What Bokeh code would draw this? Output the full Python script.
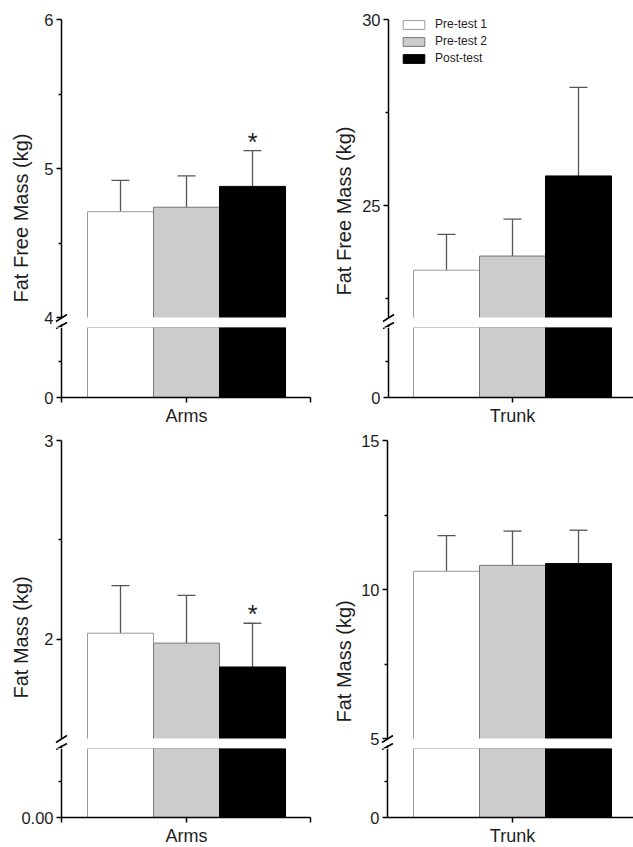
import math
from bokeh.plotting import figure
from bokeh.models import (Range1d, FixedTicker, Label, Whisker, TeeHead,
                          ColumnDataSource, Legend, LegendItem)
from bokeh.layouts import row, column
from bokeh.embed import file_html
from bokeh.resources import INLINE
from bokeh.core.properties import value

# ---------------- data ----------------
series = ["Pre-test 1", "Pre-test 2", "Post-test"]
fills = ["#ffffff", "#cccccc", "#000000"]
edges = ["#9a9a9a", "#777777", "#000000"]

categories = ["Arms", "Trunk"]

ffm_arms = [4.71, 4.74, 4.88]
ffm_arms_sd = [0.21, 0.21, 0.24]
ffm_arms_sig = [False, False, True]

ffm_trunk = [23.27, 23.65, 25.80]
ffm_trunk_sd = [0.96, 0.99, 2.38]
ffm_trunk_sig = [False, False, False]

fm_arms = [2.03, 1.98, 1.86]
fm_arms_sd = [0.24, 0.24, 0.22]
fm_arms_sig = [False, False, True]

fm_trunk = [10.61, 10.81, 10.87]
fm_trunk_sd = [1.20, 1.15, 1.12]
fm_trunk_sig = [False, False, False]

ylabels = ["Fat Free Mass (kg)", "Fat Free Mass (kg)", "Fat Mass (kg)", "Fat Mass (kg)"]

# broken axes: lower segment 0..brk, upper segment brk..top
ffm_arms_axis = dict(brk=4, top=6, ticks=[4, 5, 6], minor=[4.5, 5.5], low_ticks=[0], low_minor=[2], low_labels={0: "0"})
ffm_trunk_axis = dict(brk=22, top=30, ticks=[25, 30], minor=[22.5, 27.5], low_ticks=[0], low_minor=[11], low_labels={0: "0"})
fm_arms_axis = dict(brk=1.5, top=3, ticks=[2, 3], minor=[2.5], low_ticks=[0], low_minor=[0.75], low_labels={0: "0.00"})
fm_trunk_axis = dict(brk=5, top=15, ticks=[5, 10, 15], minor=[7.5, 12.5], low_ticks=[0], low_minor=[2.5], low_labels={0: "0"})

FONT = "Liberation Sans"
TXT = "#1e1e1e"
BAR_PX = 66          # pixel width of one bar
UP_SEG = 298         # pixel height of the upper axis segment
SPLIT = 3            # canvas split, pixels below the start of the lower segment


def style_axis(ax, size="16.5px"):
    ax.axis_line_color = "black"
    ax.axis_line_width = 1.5
    ax.major_tick_line_color = "black"
    ax.major_tick_line_width = 1.5
    ax.minor_tick_line_color = "black"
    ax.minor_tick_line_width = 1.5
    ax.major_tick_in = 0
    ax.minor_tick_in = 0
    ax.major_label_text_font = FONT
    ax.major_label_text_font_size = size
    ax.major_label_text_color = TXT


def make_panel(cat, vals, sds, sig, ylabel, ax, L, legend=False):
    brk, top = ax["brk"], ax["top"]
    xpos = [k - 1 for k in range(len(vals))]
    src = ColumnDataSource(dict(x=xpos, top=vals, upper=[v + s for v, s in zip(vals, sds)],
                                fill=fills, edge=edges))
    cx = L["cx"]
    axx = (L["axx"] - cx) / BAR_PX
    xend = (L["xend"] - cx) / BAR_PX
    xr = Range1d((L["cl"] - cx) / BAR_PX, (L["cr"] - cx) / BAR_PX)
    sdx = 5.5 / BAR_PX

    common = dict(frame_width=L["cr"] - L["cl"], x_range=xr, toolbar_location=None,
                  output_backend="svg", min_border_left=0, min_border_right=0,
                  min_border_top=0, min_border_bottom=0,
                  background_fill_color="white", border_fill_color="white",
                  outline_line_color=None)

    ct, bpx = L["ct"], L["brk_px"]
    lbpx, zpx, cbot = L["lbrk_px"], L["zero_px"], L["cbot"]
    split = lbpx + SPLIT
    pxy = UP_SEG / (top - brk)
    pyl = (zpx - lbpx) / brk

    def y_up(px):
        return brk - (px - bpx) / pxy

    def y_lo(px):
        return brk - (px - lbpx) / pyl

    # ---- upper segment (canvas = frame) ----
    y0 = y_up(split)
    y1 = y_up(ct)
    up = figure(frame_height=split - ct, y_range=Range1d(y0, y1), x_axis_location=None, **common)
    up.grid.visible = False
    bars = up.vbar(x="x", top="top", bottom=0, width=1, source=src, fill_color="fill",
                   line_color="edge", line_width=1)
    # white gap of the axis break
    up.quad(left=[xpos[0] - 0.55], right=[xpos[-1] + 0.55], bottom=[y0], top=[brk],
            fill_color="white", line_color=None)
    # start of the lower axis segment falls in this canvas
    up.segment(x0=[axx], y0=[y_up(lbpx)], x1=[axx], y1=[y0], line_color="black", line_width=1.5)
    wc = "#555555"
    up.add_layout(Whisker(source=src, base="x", lower="top", upper="upper",
                          upper_head=TeeHead(size=18, line_color=wc, line_width=1.3),
                          lower_head=None, line_color=wc, line_width=1.3))
    sx = [x for x, s in zip(xpos, sig) if s]
    sy = [u for u, s in zip(src.data["upper"], sig) if s]
    if sx:
        up.text(x=sx, y=sy, text=["*"] * len(sx), text_align="center", text_baseline="middle",
                y_offset=-9, text_font=value(FONT), text_font_size="25px", text_color=TXT)
    ya = up.yaxis[0]
    style_axis(ya)
    ya.fixed_location = axx
    ya.bounds = (brk, top)
    ya.ticker = FixedTicker(ticks=ax["ticks"], minor_ticks=ax["minor"])
    ya.major_tick_out = 5
    ya.minor_tick_out = 3
    ya.major_label_standoff = 3
    # axis break marks: one at the end of each axis segment
    up.segment(x0=[axx - sdx, axx - sdx], y0=[y_up(bpx + 4), y_up(lbpx + 4)],
               x1=[axx + sdx, axx + sdx], y1=[y_up(bpx - 3), y_up(lbpx - 2)],
               line_color="black", line_width=1.6)
    up.add_layout(Label(x=axx, y=brk, x_offset=L["tdx"], y_offset=L["tdy"], text=ylabel,
                        angle=math.pi / 2, text_align="left", text_baseline="alphabetic",
                        text_font=FONT, text_font_size="20px", text_color=TXT))

    if legend:
        items = [LegendItem(label=name, renderers=[bars], index=i) for i, name in enumerate(series)]
        lg = Legend(items=items, location=(L["lgx"] - L["cl"], (split - ct) - (L["lgy"] - ct) - 48),
                    margin=0, padding=0, spacing=3,
                    glyph_width=27, glyph_height=11, label_height=11, label_standoff=8,
                    label_text_font=FONT, label_text_font_size="12px", label_text_color=TXT,
                    border_line_color=None, background_fill_alpha=0)
        up.add_layout(lg)

    # ---- lower segment (canvas = frame) ----
    ly0 = y_lo(cbot)
    lo = figure(frame_height=cbot - split, y_range=Range1d(ly0, y_lo(split)), **common)
    lo.grid.visible = False
    lo.vbar(x="x", top="top", bottom=0, width=1, source=src, fill_color="fill",
            line_color="edge", line_width=1)
    la = lo.yaxis[0]
    style_axis(la)
    la.fixed_location = axx
    la.bounds = (0, brk)
    la.ticker = FixedTicker(ticks=ax["low_ticks"], minor_ticks=ax["low_minor"])
    la.major_label_overrides = ax["low_labels"]
    la.major_tick_out = 5
    la.minor_tick_out = 3
    la.major_label_standoff = 3
    lo.segment(x0=[axx - sdx], y0=[y_lo(lbpx + 4)], x1=[axx + sdx], y1=[y_lo(lbpx - 2)],
               line_color="black", line_width=1.6)
    xa = lo.xaxis[0]
    style_axis(xa, size="18px")
    xa.fixed_location = 0
    xa.bounds = (axx, xend)
    xa.ticker = FixedTicker(ticks=[0], minor_ticks=[axx, xend] if L["endticks"] else [])
    xa.major_label_overrides = {0: cat}
    xa.major_tick_out = 5
    xa.minor_tick_out = 5
    xa.major_label_standoff = 3
    return column(up, lo, spacing=0)


# layout in window pixels
left_top = dict(cl=0, cr=318, axx=61, xend=310, cx=186, ct=0, brk_px=317,
                lbrk_px=324, zero_px=397, cbot=427, tdx=-40.5, tdy=15, endticks=True)
right_top = dict(cl=318, cr=633, axx=388, xend=633, cx=512, ct=0, brk_px=317,
                 lbrk_px=324, zero_px=397, cbot=427, tdx=-45, tdy=22, endticks=False,
                 lgx=400, lgy=17)
left_bot = dict(cl=0, cr=318, axx=61, xend=310, cx=186, ct=427, brk_px=738,
                lbrk_px=745, zero_px=817, cbot=847, tdx=-40.5, tdy=40, endticks=True)
right_bot = dict(cl=318, cr=633, axx=387, xend=633, cx=512, ct=427, brk_px=738,
                 lbrk_px=745, zero_px=817, cbot=847, tdx=-44, tdy=16, endticks=False)

p1 = make_panel(categories[0], ffm_arms, ffm_arms_sd, ffm_arms_sig, ylabels[0], ffm_arms_axis, left_top)
p2 = make_panel(categories[1], ffm_trunk, ffm_trunk_sd, ffm_trunk_sig, ylabels[1], ffm_trunk_axis, right_top, legend=True)
p3 = make_panel(categories[0], fm_arms, fm_arms_sd, fm_arms_sig, ylabels[2], fm_arms_axis, left_bot)
p4 = make_panel(categories[1], fm_trunk, fm_trunk_sd, fm_trunk_sig, ylabels[3], fm_trunk_axis, right_bot)

layout = column(row(p1, p2, spacing=0), row(p3, p4, spacing=0), spacing=0)

open("out.html", "w").write(file_html(layout, INLINE))
